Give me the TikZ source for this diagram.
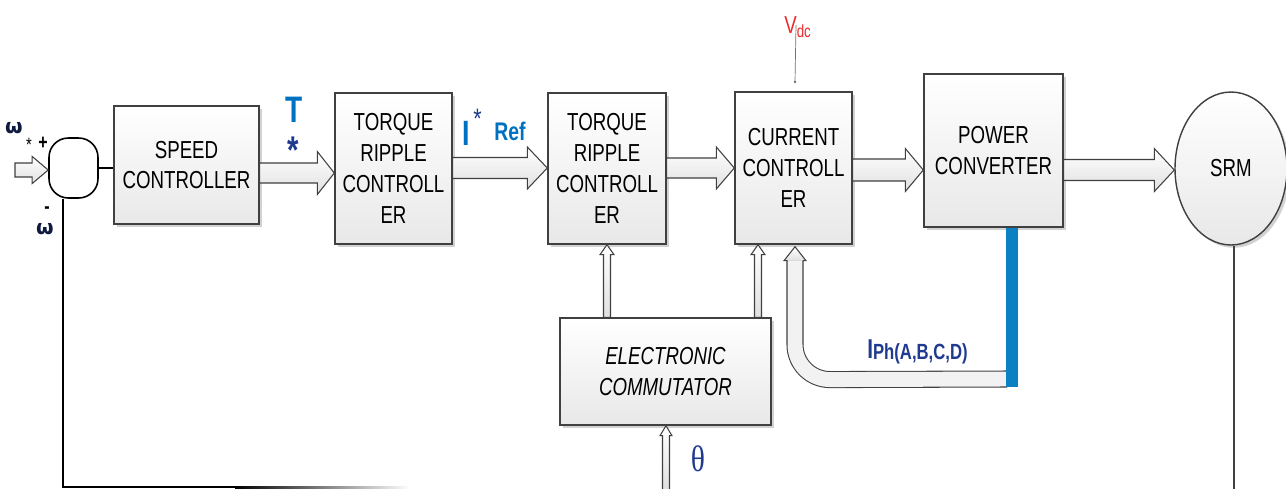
\documentclass[tikz,border=0pt]{standalone}
\usepackage{fontspec}
\setmainfont{Liberation Sans}[FakeStretch=0.76]
\newfontfamily\thetafont{Liberation Serif}[FakeStretch=0.8]
\newfontfamily\omegafont{DejaVu Sans}
\usepackage{tikz}
\usetikzlibrary{calc,shadows,shapes.geometric}
\definecolor{refblue}{HTML}{0070C0}
\definecolor{navy}{HTML}{1F3A8F}
\definecolor{vdcred}{HTML}{EE2A2A}
\definecolor{barblue}{HTML}{0B80C3}

% hollow block arrows: from, to, level, shaft half, head half, head length (px)
\newcommand\harrow[6]{%
  \draw[hollow] let \p1=(#1), \p2=(#2), \p3=(#3) in
    (\x1,\y3+#4*0.569pt) -- (\x2-#6*0.569pt,\y3+#4*0.569pt)
    -- (\x2-#6*0.569pt,\y3+#5*0.569pt) -- (\x2,\y3)
    -- (\x2-#6*0.569pt,\y3-#5*0.569pt) -- (\x2-#6*0.569pt,\y3-#4*0.569pt)
    -- (\x1,\y3-#4*0.569pt) -- cycle;}
\newcommand\varrow[6]{%
  \draw[hollow] let \p1=(#1), \p2=(#2), \p3=(#3) in
    (\x3-#4*0.569pt,\y1) -- (\x3-#4*0.569pt,\y2-#6*0.569pt)
    -- (\x3-#5*0.569pt,\y2-#6*0.569pt) -- (\x3,\y2)
    -- (\x3+#5*0.569pt,\y2-#6*0.569pt) -- (\x3+#4*0.569pt,\y2-#6*0.569pt)
    -- (\x3+#4*0.569pt,\y1) -- cycle;}

\begin{document}
\begin{tikzpicture}[x=0.02cm, y=-0.02cm,
  blk/.style={draw=black!75, line width=0.8pt, top color=white, bottom color=black!9,
    drop shadow={shadow xshift=1.6pt, shadow yshift=-1.6pt, fill=black!35, opacity=.5},
    align=center, inner sep=0pt, font=\fontsize{14}{17.5}\selectfont},
  hollow/.style={draw=black!75, line width=0.6pt, top color=white, bottom color=black!12},
  pipe/.style={draw=black!75, line width=0.6pt, double=black!5, double distance=8.5pt},
  lbl/.style={inner sep=0pt, anchor=base west},
  omega/.style={font=\omegafont\bfseries\fontsize{11.5}{11.5}\selectfont, text=black!55!navy, inner sep=0pt}
]
\useasboundingbox (0,0) rectangle (1286,488);
\fill[white] (0,0) rectangle (1286,488);

% blocks
\node[draw=black, line width=0.9pt, fill=white, rounded corners=11pt, minimum width=0.98cm,
  minimum height=1.2cm, inner sep=0pt] (sum) at (73.5,168) {};
\node[blk, minimum width=2.9cm, minimum height=2.36cm] (speed) at (186.5,165) {SPEED\\CONTROLLER};
\node[blk, minimum width=2.34cm, minimum height=3.02cm] (tr1) at (393.5,168.5) {TORQUE\\RIPPLE\\CONTROLL\\ER};
\node[blk, minimum width=2.36cm, minimum height=3.02cm] (tr2) at (607,168.5) {TORQUE\\RIPPLE\\CONTROLL\\ER};
\node[blk, minimum width=2.34cm, minimum height=3.04cm] (current) at (793.5,168) {CURRENT\\CONTROLL\\ER};
\node[blk, minimum width=2.78cm, minimum height=3.06cm] (power) at (993.5,150.5) {POWER\\CONVERTER};
\node[blk, ellipse, minimum width=2.24cm, minimum height=3.06cm] (srm) at (1231,168.5) {SRM};
\node[blk, minimum width=4.22cm, minimum height=2.14cm,
  font=\fontsize{14}{17.5}\selectfont\itshape] (commut) at (665.5,371.5) {ELECTRONIC\\COMMUTATOR};

% forward path
\coordinate (win) at (15,170);
\harrow{win}{sum.west}{win}{7}{13.5}{16}
\draw[line width=0.9pt] (sum.east) -- (sum.east -| speed.west);
\harrow{speed.east}{tr1.west}{0,173}{10}{21.5}{17}
\harrow{tr1.east}{tr2.west}{0,168}{10.5}{21}{20}
\harrow{tr2.east}{current.west}{0,168}{10}{21}{18}
\harrow{current.east}{power.west}{0,170}{11}{21.5}{18}
\harrow{power.east}{srm.west}{0,170}{10.5}{21.5}{20}

% commutator
\varrow{commut.north}{tr2.south}{tr2.south}{3.5}{7}{10}
\varrow{commut.north}{current.south}{758,0}{3.5}{7}{10}
\coordinate (thetain) at (666,490);
\varrow{thetain}{commut.south}{thetain}{3.5}{6}{10}

% phase current feedback
\coordinate (barend) at (1012,387);
\coordinate (fbturn) at ($(current.south)+(1.5,135)$);
\draw[pipe, rounded corners=20pt] ($(barend)+(-5,-8)$) -- (fbturn) -- ($(current.south)+(1.5,16)$);
\draw[hollow] ($(current.south)+(-6,16)$) -- ($(current.south)+(-9.5,16)$) -- ($(current.south)+(1.5,2)$)
  -- ($(current.south)+(12.5,16)$) -- ($(current.south)+(9,16)$);
\draw[barblue, line width=6.3pt] (power.south -| barend) -- (barend);

% speed feedback
\coordinate (fbdown) at (63,487);
\coordinate (fbfade) at (235,487);
\draw[line width=1.1pt] (sum.south -| fbdown) -- (fbdown) -- (fbfade);
\shade[left color=black, right color=white] ($(fbfade)+(0,-1)$) rectangle (410,488);
\coordinate (srmfoot) at (1234,490);
\draw[black!75, line width=0.6pt] (srm.south -| srmfoot) -- (srmfoot);

% Vdc
\node[lbl, text=vdcred, font=\fontsize{14}{14}\selectfont] (vdc) at (784,33)
  {V{\fontsize{10}{10}\selectfont\raisebox{-2.3pt}{dc}}};
\coordinate (vdcend) at (795,82);
\draw[black!55, line width=0.4pt] ($(vdc.base west)+(12,-8)$) -- (vdcend);
\fill[black!70] (vdcend) circle (0.7pt);

% labels
\node[lbl, text=refblue, font=\fontsize{21}{21}\selectfont\bfseries] (tlab) at (285,122) {T};
\node[lbl, text=navy, font=\fontsize{22}{22}\selectfont\bfseries] (tstar) at (287,163) {*};
\node[lbl, text=refblue, font=\fontsize{20}{20}\selectfont\bfseries] (ilab) at (462,145) {I};
\node[lbl, text=navy, font=\fontsize{16}{16}\selectfont] (istar) at (473,128) {*};
\node[lbl, text=refblue, font=\fontsize{14.5}{14.5}\selectfont\bfseries] (reflab) at (494,140) {Ref};
\node[lbl, text=navy, font=\bfseries] (iph) at (867,358)
  {{\fontsize{15.5}{15.5}\selectfont I}{\fontsize{12.5}{12.5}\selectfont\raisebox{-1pt}{Ph(A,B,C,D)}}};
\node[text=navy, font=\thetafont\fontsize{21}{21}\selectfont, inner sep=0pt] (theta) at (698,459) {θ};
\node[omega] (wref) at (14,128) {ω};
\node[font=\fontsize{11}{11}\selectfont, inner sep=0pt] (wstar) at (29,145) {*};
\node[font=\fontsize{12}{12}\selectfont\bfseries, inner sep=0pt] (plus) at (43,143) {+};
\node[font=\fontsize{12}{12}\selectfont\bfseries, inner sep=0pt] (minus) at (47,210) {-};
\node[omega] (wfb) at (45,229) {ω};
\end{tikzpicture}
\end{document}
